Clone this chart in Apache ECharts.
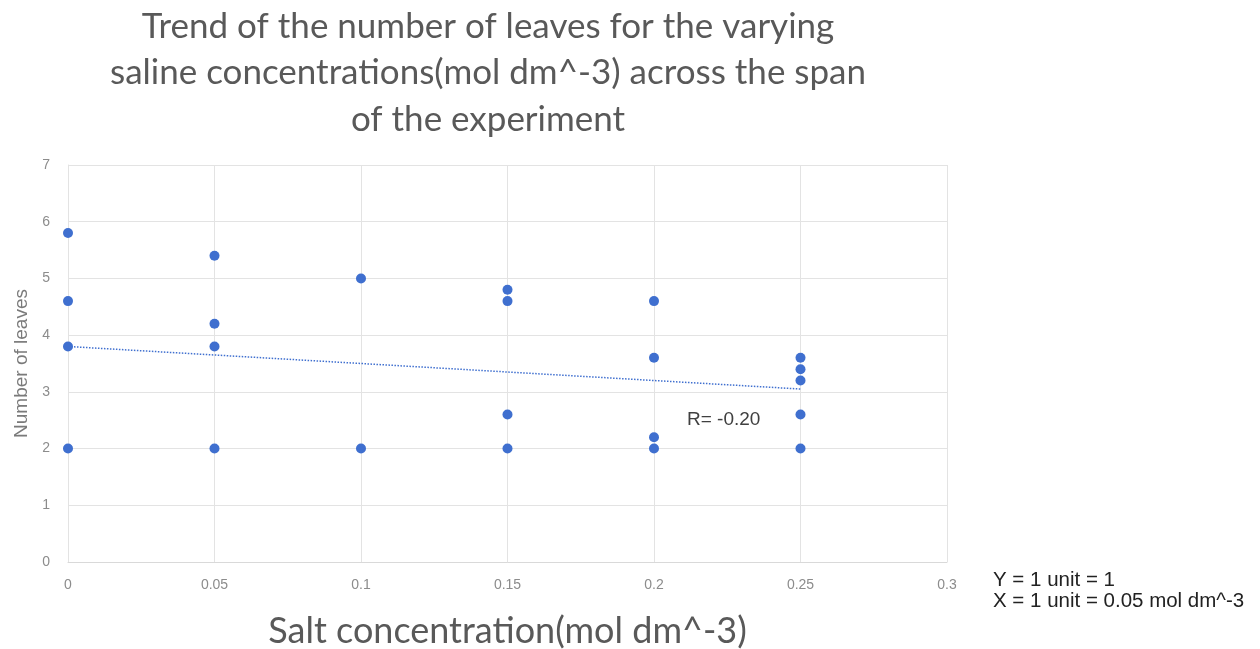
<!DOCTYPE html>
<html>
<head>
<meta charset="utf-8">
<script src="https://cdn.jsdelivr.net/npm/echarts@6/dist/echarts.min.js"></script>
<style>html,body{margin:0;padding:0;background:#fff}#c{width:1260px;height:649px}</style>
</head>
<body>
<div id="c"></div>
<script>
const titleLines = ["Trend of the number of leaves for the varying", "saline concentrations(mol dm^-3) across the span", "of the experiment"];
const xAxisTitle = "Salt concentration(mol dm^-3)";
const yAxisTitle = "Number of leaves";
const concentrations = [0, 0, 0, 0, 0.05, 0.05, 0.05, 0.05, 0.1, 0.1, 0.15, 0.15, 0.15, 0.15, 0.2, 0.2, 0.2, 0.2, 0.25, 0.25, 0.25, 0.25, 0.25];
const leaves = [5.8, 4.6, 3.8, 2, 5.4, 4.2, 3.8, 2, 5, 2, 4.8, 4.6, 2.6, 2, 4.6, 3.6, 2.2, 2, 3.6, 3.4, 3.2, 2.6, 2];
const trendX = [0, 0.25];
const trendY = [3.8, 3.05];
const rLabel = "R= -0.20";
const noteLines = ["Y = 1 unit = 1", "X = 1 unit = 0.05 mol dm^-3"];

const blue = '#3f6fcf';
const chart = echarts.init(document.getElementById('c'));
chart.setOption({
  animation: false,
  title: {
    text: titleLines.join('\n'),
    left: 483, top: -2, textAlign: 'center',
    textStyle: { fontFamily: 'Lato', fontSize: 35, fontWeight: 'normal', color: '#595959', lineHeight: 46.5 }
  },
  grid: { left: 68, right: 313, top: 165, bottom: 87, outerBoundsMode: 'none', containLabel: false },
  xAxis: {
    type: 'value', min: 0, max: 0.3, interval: 0.05,
    name: xAxisTitle, nameLocation: 'middle', nameGap: 51,
    nameTextStyle: { fontFamily: 'Lato', fontSize: 36, color: '#595959' },
    axisLine: { show: true, lineStyle: { color: '#d9d9d9' } },
    axisTick: { show: false },
    axisLabel: { fontSize: 14, color: '#8c8c8c', margin: 16, fontFamily: 'Liberation Sans' },
    splitLine: { show: true, lineStyle: { color: '#e3e3e3' } }
  },
  yAxis: {
    type: 'value', min: 0, max: 7, interval: 1,
    name: yAxisTitle, nameLocation: 'middle', nameGap: 37, nameRotate: 90,
    nameTextStyle: { fontFamily: 'Liberation Sans', fontSize: 19, color: '#7a7a7a' },
    axisLine: { show: true, lineStyle: { color: '#e3e3e3' } },
    axisTick: { show: false },
    axisLabel: { fontSize: 14, color: '#8c8c8c', margin: 18, fontFamily: 'Liberation Sans' },
    splitLine: { show: true, lineStyle: { color: '#e3e3e3' } }
  },
  series: [
    {
      type: 'line',
      data: trendX.map((x, i) => [x, trendY[i]]),
      symbol: 'none',
      lineStyle: { color: blue, width: 1.5, type: [1.5, 1.5] },
      z: 2
    },
    {
      type: 'scatter',
      data: concentrations.map((x, i) => [x, leaves[i]]),
      symbol: 'circle', symbolSize: 10,
      itemStyle: { color: blue, opacity: 1 },
      z: 3
    }
  ],
  graphic: [
    { type: 'text', left: 687, top: 410, style: { text: rLabel, fontFamily: 'Liberation Sans', fontSize: 19, fill: '#404040' } },
    { type: 'text', left: 993, top: 570, style: { text: noteLines.join('\n'), fontFamily: 'Liberation Sans', fontSize: 20.5, lineHeight: 21, fill: '#222' } }
  ]
});
</script>
</body>
</html>
